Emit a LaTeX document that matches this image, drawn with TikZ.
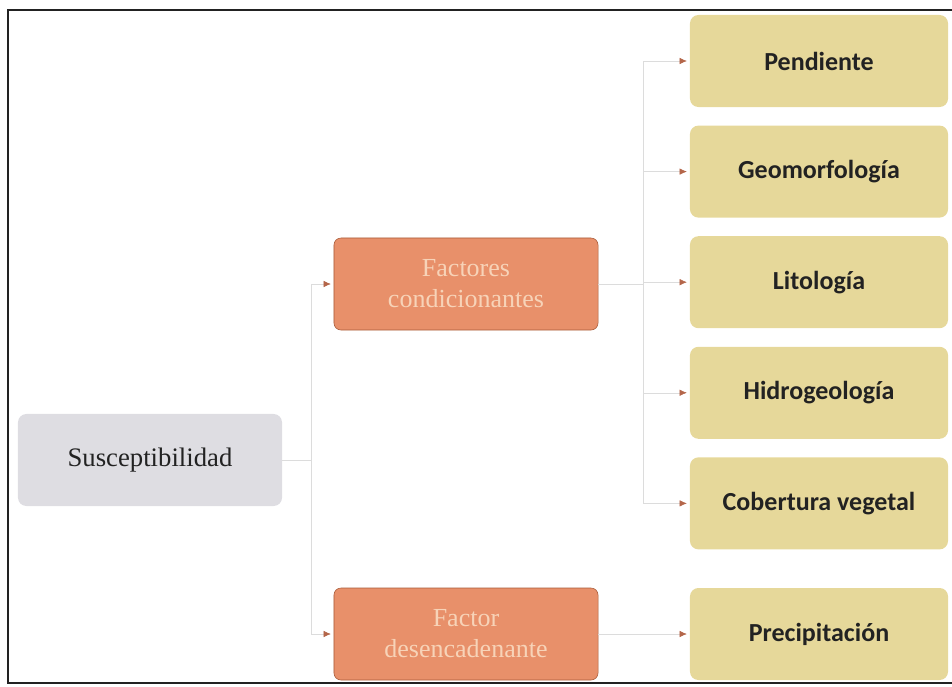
\documentclass[tikz,border=0pt]{standalone}
\usepackage{fontspec}
\setmainfont{Liberation Serif}
\newfontfamily\boxfont{Carlito}
\usetikzlibrary{arrows.meta,positioning}
\definecolor{ink}{HTML}{222222}
\definecolor{grayfill}{HTML}{DEDDE2}
\definecolor{orangefill}{HTML}{E8906A}
\definecolor{orangeedge}{HTML}{A85A38}
\definecolor{orangetext}{HTML}{F7D3B8}
\definecolor{yellowfill}{HTML}{E6D89A}
\definecolor{linkgray}{HTML}{DCDCDC}
\definecolor{tipred}{HTML}{B4664A}
\tikzset{
  mainbox/.style={fill=grayfill, rounded corners=6pt, align=center, minimum width=6.6cm, minimum height=2.3cm, font=\fontsize{19}{23}\selectfont, text=ink},
  factorbox/.style={draw=orangeedge, fill=orangefill, rounded corners=5pt, align=center, minimum width=6.6cm, minimum height=2.3cm, font=\fontsize{18.5}{22}\selectfont, text=orangetext},
  itembox/.style={fill=yellowfill, rounded corners=6pt, align=center, minimum width=6.45cm, minimum height=2.3cm, font=\boxfont\bfseries\fontsize{18.5}{22}\selectfont, text=ink},
  link/.style={draw=linkgray, thin},
  arrow/.style={-{Latex[length=1.8mm, width=1.6mm, color=tipred]}, draw=linkgray, thin, shorten >=2pt}
}

\begin{document}
\begin{tikzpicture}[x=0.025cm, y=-0.025cm, node distance=0.45cm]
  \useasboundingbox (0,0) rectangle (952,686);
  \draw[ink, thick] (952,10) -- (8,10) -- (8,683) -- (952,683);

  \node[mainbox] (susc) at (150,460) {Susceptibilidad};
  \node[factorbox] (fcond) at (466,284) {Factores\\condicionantes};
  \node[factorbox] (fdes) at (466,634) {Factor\\desencadenante};

  \node[itembox] (pend) at (819,61) {Pendiente};
  \node[itembox, below=of pend] (geom) {Geomorfología};
  \node[itembox, below=of geom] (lito) {Litología};
  \node[itembox, below=of lito] (hidro) {Hidrogeología};
  \node[itembox, below=of hidro] (cober) {Cobertura vegetal};
  \node[itembox] (precip) at (819,634) {Precipitación};

  \coordinate (ltrunk) at (311,460);
  \coordinate (rtrunk) at (643,284);

  \draw[link] (susc.east) -- (ltrunk);
  \draw[arrow] (ltrunk) |- (fcond.west);
  \draw[arrow] (ltrunk) |- (fdes.west);

  \draw[link] (fcond.east) -- (rtrunk);
  \foreach \item in {pend,geom,lito,hidro,cober}
    \draw[arrow] (rtrunk) |- (\item.west);
  \draw[arrow] (fdes) -- (precip);
\end{tikzpicture}
\end{document}
